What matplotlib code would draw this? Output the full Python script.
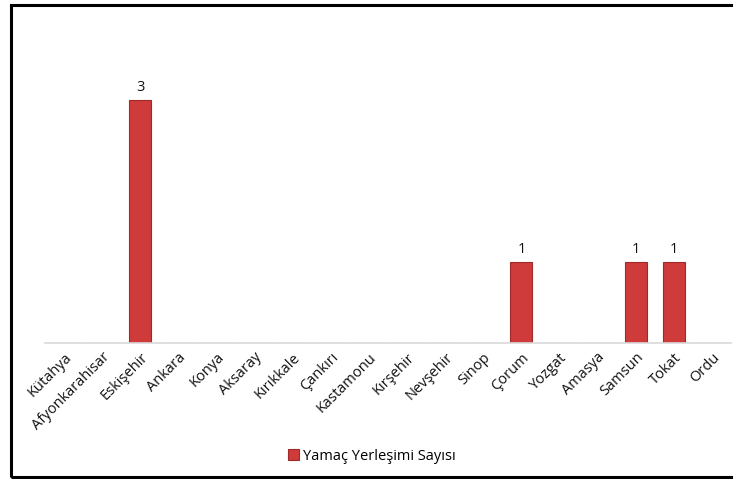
import matplotlib.pyplot as plt
from matplotlib.patches import Rectangle

# Yamaç yerleşimi sayısı by province
provinces = ["Kütahya", "Afyonkarahisar", "Eskişehir", "Ankara", "Konya", "Aksaray",
             "Kırıkkale", "Çankırı", "Kastamonu", "Kırşehir", "Nevşehir", "Sinop",
             "Çorum", "Yozgat", "Amasya", "Samsun", "Tokat", "Ordu"]
counts = [0, 0, 3, 0, 0, 0, 0, 0, 0, 0, 0, 0, 1, 0, 0, 1, 1, 0]
series_name = "Yamaç Yerleşimi Sayısı"

plt.rcParams["font.family"] = ["Open Sans", "DejaVu Sans"]

fig = plt.figure(figsize=(7.33, 4.79), dpi=100)
ax = fig.add_axes([45 / 733, 136 / 479, 686 / 733, 283 / 479])

x = list(range(len(provinces)))
bars = ax.bar(x, counts, width=0.58, color="#CF3A3A", edgecolor="#9E2A2A",
              linewidth=0.8, label=series_name)

for xi, v in zip(x, counts):
    if v > 0:
        ax.annotate(str(v), (xi, v), xytext=(0, 4), textcoords="offset points",
                    ha="center", va="bottom", fontsize=10.5, color="#111111")

ax.set_xlim(-0.5, len(provinces) - 0.5)
ax.set_ylim(0, 3.5)
ax.set_xticks(x)
ax.set_xticklabels(provinces, rotation=45, ha="right", rotation_mode="anchor",
                   fontsize=10.5, color="#111111")
ax.tick_params(axis="x", length=0, pad=5)
ax.set_yticks([])
for side in ["top", "right", "left"]:
    ax.spines[side].set_visible(False)
ax.spines["bottom"].set_color("#D9D9D9")
ax.spines["bottom"].set_linewidth(1.2)

fig.legend(handles=[bars], labels=[series_name], loc="center",
           bbox_to_anchor=(372 / 733, 1 - 456 / 479), frameon=False,
           fontsize=10.5, handlelength=0.7, handleheight=0.7, handletextpad=0.3)

# outer border (right edge is cut off in the original)
fig.patches.append(Rectangle((11 / 733, 2.5 / 479), 1.0, 471.5 / 479,
                             transform=fig.transFigure, fill=False,
                             edgecolor="black", linewidth=2.2))

fig.savefig("out.png", dpi=100)
